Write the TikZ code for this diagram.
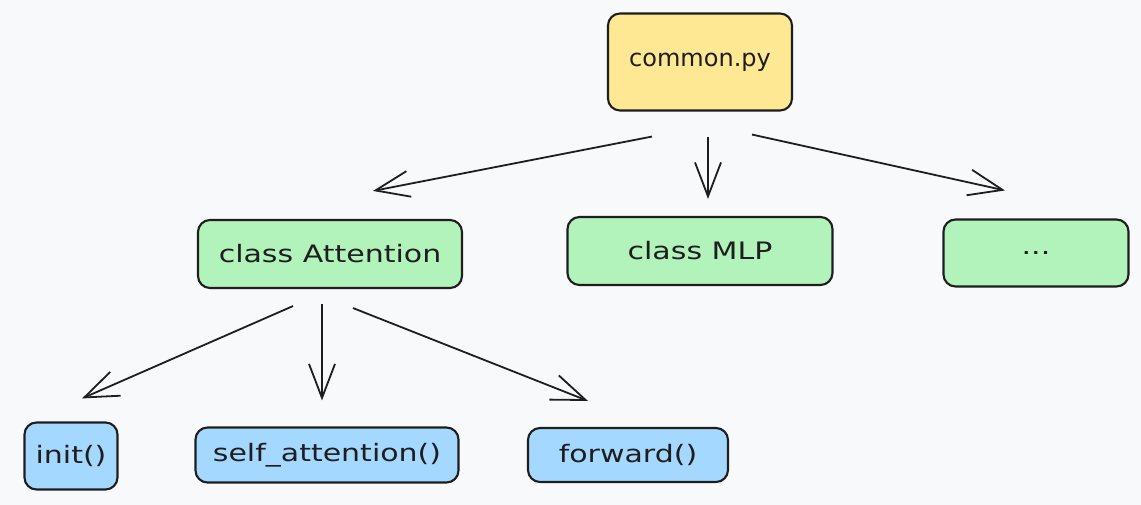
\documentclass[tikz,border=0pt]{standalone}
\usepackage{fontspec}
\setmainfont[FakeStretch=1.25]{DejaVu Sans}
\newfontfamily\filefont{DejaVu Sans}
\usetikzlibrary{arrows.meta}

\definecolor{ink}{HTML}{1E1E1E}
\definecolor{paper}{HTML}{F8F9FA}
\definecolor{fileyellow}{HTML}{FFE894}
\definecolor{classgreen}{HTML}{B2F2BB}
\definecolor{funcblue}{HTML}{A5D8FF}

\tikzset{
  box/.style={draw=ink, line width=2.1pt, rounded corners=12pt, inner sep=0pt,
    text=ink, font=\fontsize{24}{28}\selectfont},
  filebox/.style={box, fill=fileyellow},
  classbox/.style={box, fill=classgreen},
  funcbox/.style={box, fill=funcblue},
  link/.style={draw=ink, line width=1.8pt,
    -{Straight Barb[length=34pt,width=26pt,line width=1.8pt]}},
}

\begin{document}
\begin{tikzpicture}[x=1pt,y=-1pt]
	% background
	\fill [paper] (0,0) rectangle (1141,505);
	\useasboundingbox (0,0) rectangle (1141,505);

	% file
	\node [filebox, minimum width=184pt, minimum height=97pt] (common) at (700,62) {\filefont common.py};

	% classes
	\node [classbox, minimum width=264pt, minimum height=68pt] (attn) at (330,254) {class Attention};
	\node [classbox, minimum width=265pt, minimum height=68pt] (mlp) at (700,251) {class MLP};
	\node [classbox, minimum width=185pt, minimum height=67pt] (more) at (1036,253) {...};

	% methods
	\node [funcbox, minimum width=93pt, minimum height=67pt] (init) at (71,456) {init()};
	\node [funcbox, minimum width=263pt, minimum height=55pt] (selfatt) at (327,455) {self\_attention()};
	\node [funcbox, minimum width=200pt, minimum height=54pt] (forward) at (628,455) {forward()};

	% file -> classes
	\draw [link] ([shift={(-48,25)}]common.south) -- ([shift={(43,-28)}]attn.north);
	\draw [link] ([shift={(8,25)}]common.south) -- ([shift={(8,-17)}]mlp.north);
	\draw [link] ([shift={(52,23)}]common.south) -- ([shift={(-31,-28)}]more.north);

	% class -> methods
	\draw [link] ([shift={(-37,17)}]attn.south) -- ([shift={(11,-23)}]init.north);
	\draw [link] ([shift={(-8,15)}]attn.south) -- ([shift={(-5,-26)}]selfatt.north);
	\draw [link] ([shift={(23,19)}]attn.south) -- ([shift={(-40,-26)}]forward.north);

\end{tikzpicture}
\end{document}
